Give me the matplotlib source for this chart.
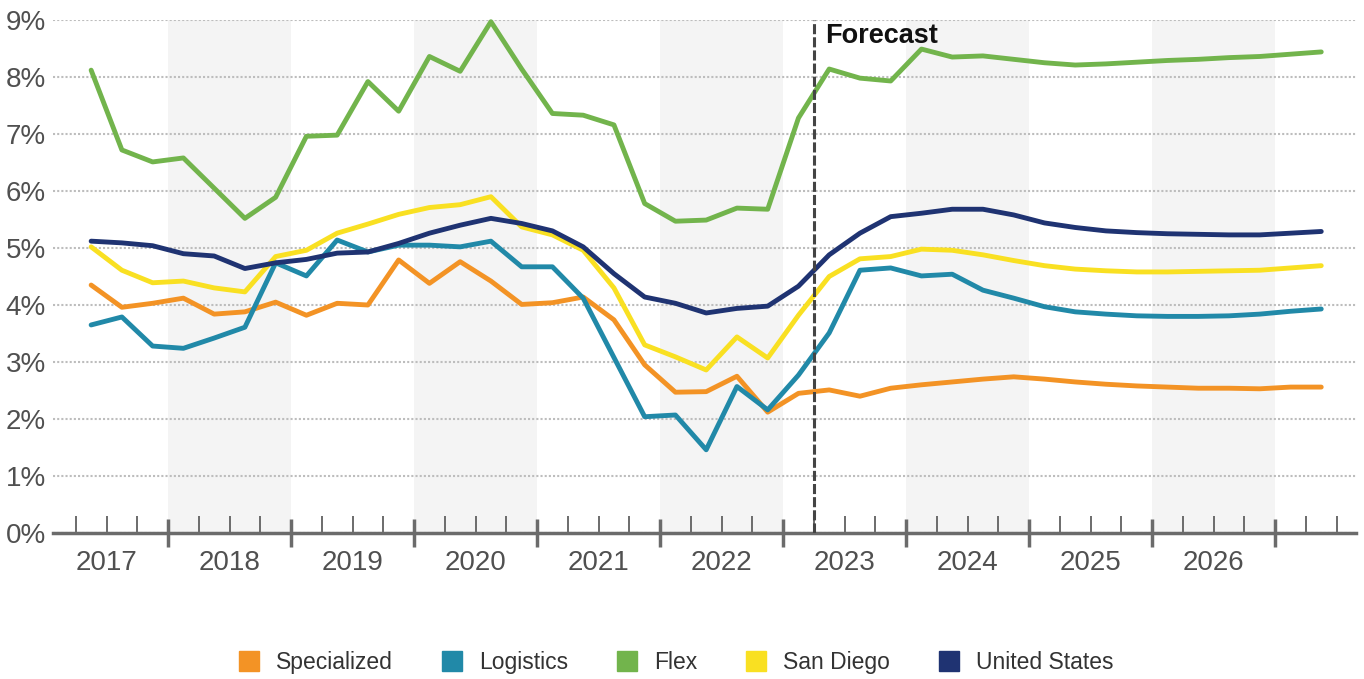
import numpy as np
import matplotlib
matplotlib.use("Agg")
import matplotlib.pyplot as plt
from matplotlib.lines import Line2D

plt.rcParams['font.family'] = ['Liberation Sans', 'DejaVu Sans']

# quarterly vacancy rates, 2017Q2 .. 2027Q2
start_year, start_q = 2017, 2
n_pts = 41

specialized = [4.35, 3.96, 4.03, 4.12, 3.84, 3.88, 4.05, 3.82, 4.03, 4.00,
               4.79, 4.38, 4.76, 4.42, 4.01, 4.04, 4.14, 3.74, 2.95, 2.47,
               2.48, 2.75, 2.12, 2.45, 2.51, 2.40, 2.54, 2.60, 2.65, 2.70,
               2.74, 2.70, 2.65, 2.61, 2.58, 2.56, 2.54, 2.54, 2.53, 2.56, 2.56]
logistics = [3.65, 3.79, 3.28, 3.24, 3.42, 3.61, 4.74, 4.51, 5.14, 4.93,
             5.05, 5.05, 5.02, 5.12, 4.67, 4.67, 4.12, 3.08, 2.04, 2.07,
             1.46, 2.57, 2.16, 2.77, 3.51, 4.61, 4.65, 4.51, 4.54, 4.26,
             4.12, 3.97, 3.88, 3.84, 3.81, 3.80, 3.80, 3.81, 3.84, 3.89, 3.93]
flex = [8.12, 6.72, 6.51, 6.58, 6.05, 5.52, 5.89, 6.96, 6.98, 7.92,
        7.40, 8.36, 8.10, 8.97, 8.14, 7.36, 7.33, 7.16, 5.78, 5.47,
        5.49, 5.70, 5.68, 7.28, 8.14, 7.98, 7.93, 8.49, 8.35, 8.37,
        8.31, 8.25, 8.21, 8.23, 8.26, 8.29, 8.31, 8.34, 8.36, 8.40, 8.44]
san_diego = [5.02, 4.61, 4.39, 4.42, 4.30, 4.23, 4.85, 4.96, 5.26, 5.42,
             5.59, 5.71, 5.76, 5.90, 5.37, 5.23, 4.96, 4.30, 3.30, 3.09,
             2.86, 3.44, 3.07, 3.82, 4.50, 4.81, 4.85, 4.98, 4.96, 4.88,
             4.78, 4.69, 4.63, 4.60, 4.58, 4.58, 4.59, 4.60, 4.61, 4.65, 4.69]
united_states = [5.12, 5.09, 5.04, 4.90, 4.86, 4.64, 4.74, 4.80, 4.91, 4.93,
                 5.08, 5.26, 5.40, 5.52, 5.43, 5.30, 5.02, 4.55, 4.14, 4.03,
                 3.86, 3.94, 3.98, 4.33, 4.88, 5.26, 5.55, 5.61, 5.68, 5.68,
                 5.58, 5.44, 5.36, 5.30, 5.27, 5.25, 5.24, 5.23, 5.23, 5.26, 5.29]

series_names = ['Specialized', 'Logistics', 'Flex', 'San Diego', 'United States']
colors = ['#F39325', '#2189A8', '#72B44C', '#F9E022', '#1F3372']
year_labels = [str(y) for y in range(2017, 2027)]
forecast_start = (2023, 2)

# x in quarter slots, 0 = start of 2017, each point centred in its quarter
x = (start_q - 1) + 0.5 + np.arange(n_pts)

fig = plt.figure(figsize=(13.64, 6.79), dpi=100)
ax = fig.add_axes([53 / 1364, 146 / 679, 1303 / 1364, 513 / 679])

# alternating year shading
for k in range(1, len(year_labels), 2):
    ax.axvspan(4 * k, 4 * k + 4, color='#F4F4F4', zorder=0, lw=0)

ax.set_yticks(range(0, 10))
ax.yaxis.grid(True, color='#BDBDBD', linestyle=(0, (1, 1)), lw=1.5, zorder=1)
ax.set_axisbelow(True)

for vals, c, name in zip([specialized, logistics, flex, san_diego, united_states], colors, series_names):
    ax.plot(x, vals, color=c, lw=3.5, label=name, solid_joinstyle='round',
            solid_capstyle='round', zorder=3, clip_on=False)

fx = (forecast_start[0] - 2017) * 4 + forecast_start[1] - 1
ax.axvline(fx, color='#444444', lw=2.2, linestyle=(0, (3.3, 1.0)), zorder=4)
ax.text(fx + 0.37, 8.6, 'Forecast', fontsize=19.5, fontweight='bold', color='#111111',
        va='baseline', ha='left')

ax.set_xlim(0.26, 42.63)
ax.set_ylim(0, 9)
for s in ['top', 'right', 'left']:
    ax.spines[s].set_visible(False)
ax.spines['bottom'].set_color('#6B6B6B')
ax.spines['bottom'].set_linewidth(2.5)

ax.set_xticks(np.arange(4, 41, 4))
ax.set_xticks([q for q in range(1, 43) if q % 4 != 0], minor=True)
ax.tick_params(axis='x', which='major', direction='inout', length=20, width=2.5,
               color='#6B6B6B', labelbottom=False)
ax.tick_params(axis='x', which='minor', direction='in', length=12, width=1.4,
               color='#6B6B6B')
ax.tick_params(axis='y', length=0, pad=5, labelsize=20, labelcolor='#505050')
ax.set_yticklabels([f'{v}%' for v in range(0, 10)])

for k, lab in enumerate(year_labels):
    ax.text(4 * k + 2, -0.53, lab, ha='center', va='center', fontsize=20, color='#505050')

handles = [Line2D([], [], marker='s', linestyle='none', markersize=15,
                  markerfacecolor=c, markeredgecolor=c) for c in colors]
fig.legend(handles, series_names, loc='center', bbox_to_anchor=(0.4945, 0.0236),
           ncol=5, frameon=False, fontsize=16.5, labelcolor='#333333',
           handletextpad=0.6, columnspacing=1.95, handlelength=1.2)

fig.savefig('out.png', dpi=100)
